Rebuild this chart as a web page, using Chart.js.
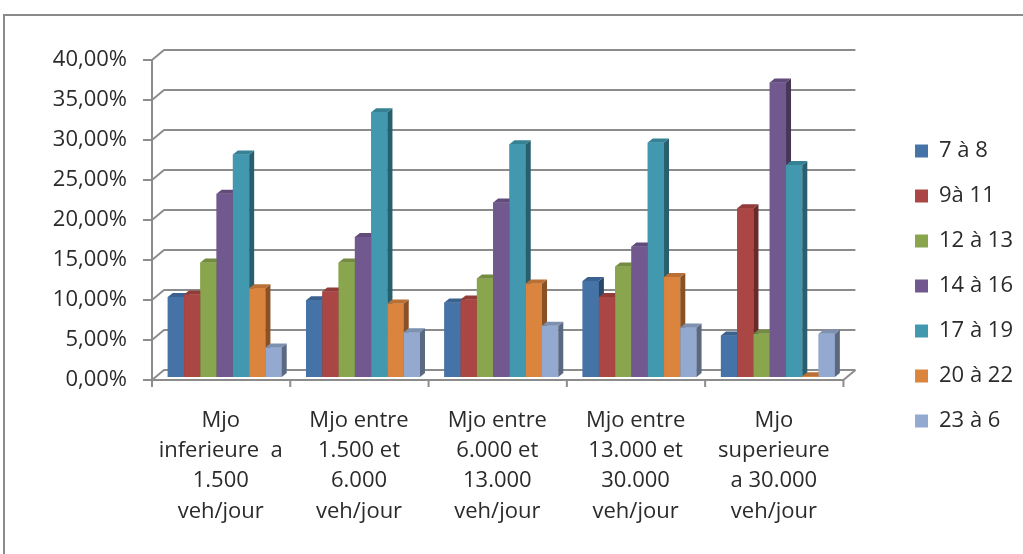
<!DOCTYPE html>
<html>
<head>
<meta charset="utf-8">
<script src="https://cdn.jsdelivr.net/npm/chart.js@4.4.1/dist/chart.umd.min.js"></script>
<style>
  html, body { margin: 0; padding: 0; background: #fff; }
</style>
</head>
<body>
<canvas id="chart" width="1023" height="554"></canvas>
<script>
// categories (multi-line labels as in the sheet)
const categories = [
  ['Mjo', 'inferieure  a', '1.500', 'veh/jour'],
  ['Mjo entre', '1.500 et', '6.000', 'veh/jour'],
  ['Mjo entre', '6.000 et', '13.000', 'veh/jour'],
  ['Mjo entre', '13.000 et', '30.000', 'veh/jour'],
  ['Mjo', 'superieure', 'a 30.000', 'veh/jour']
];
const seriesNames = ['7 à 8', '9à 11', '12 à 13', '14 à 16', '17 à 19', '20 à 22', '23 à 6'];

// values in %
const h7a8   = [10.0,  9.6,  9.3, 12.0,  5.2];
const h9a11  = [10.3, 10.7,  9.7, 10.0, 21.1];
const h12a13 = [14.3, 14.3, 12.3, 13.8,  5.4];
const h14a16 = [22.9, 17.5, 21.8, 16.3, 36.8];
const h17a19 = [27.8, 33.1, 29.1, 29.3, 26.5];
const h20a22 = [11.1,  9.2, 11.7, 12.5,  0.1];
const h23a6  = [ 3.7,  5.6,  6.4,  6.2,  5.4];

const yMax = 40;
const yStep = 5;

const colors = ['#4572a7', '#aa4643', '#89a54e', '#71588f', '#4198af', '#db843d', '#93a9cf'];
const allSeries = [h7a8, h9a11, h12a13, h14a16, h17a19, h20a22, h23a6];

// fake 3d: wall depth and bar depth
const DEPTH_X = 12, DEPTH_Y = -10, PLANE = 0.3;
const BAR_X = 5, BAR_Y = -4;
const FONT = '"Open Sans", sans-serif';
const TEXT = '#2b2b2b';

function shade(hex, f) {
  const n = parseInt(hex.slice(1), 16);
  const r = Math.round(((n >> 16) & 255) * f);
  const g = Math.round(((n >> 8) & 255) * f);
  const b = Math.round((n & 255) * f);
  return 'rgb(' + r + ',' + g + ',' + b + ')';
}

function poly(ctx, pts) {
  ctx.beginPath();
  ctx.moveTo(pts[0][0], pts[0][1]);
  for (let i = 1; i < pts.length; i++) ctx.lineTo(pts[i][0], pts[i][1]);
  ctx.closePath();
  ctx.fill();
}

const frame3d = {
  id: 'frame3d',
  beforeDatasetsDraw(chart) {
    const { ctx, chartArea: a, scales: { x, y } } = chart;
    const fx0 = a.left - DEPTH_X * PLANE;
    const fx1 = a.right - DEPTH_X * PLANE;
    const fy = v => y.getPixelForValue(v) - DEPTH_Y * PLANE;
    ctx.save();
    // outer chart border
    ctx.strokeStyle = '#8a8a8a';
    ctx.lineWidth = 2;
    ctx.strokeRect(4, 15, 1200, 800);

    ctx.strokeStyle = '#8c8c8c';
    ctx.lineWidth = 2;
    ctx.lineJoin = 'round';
    y.ticks.forEach(t => {
      const yy = fy(t.value);
      ctx.beginPath();
      ctx.moveTo(fx0 - 9, yy);
      ctx.lineTo(fx0, yy);
      ctx.lineTo(fx0 + DEPTH_X, yy + DEPTH_Y);
      ctx.lineTo(fx1 + DEPTH_X, yy + DEPTH_Y);
      ctx.stroke();
    });
    // front axis + floor edge
    ctx.beginPath();
    ctx.moveTo(fx0, fy(yMax));
    ctx.lineTo(fx0, fy(0));
    ctx.lineTo(fx1, fy(0));
    ctx.lineTo(fx1 + DEPTH_X, fy(0) + DEPTH_Y);
    ctx.stroke();
    // category ticks
    const n = categories.length;
    for (let i = 0; i <= n; i++) {
      const cx = fx0 + (fx1 - fx0) * i / n;
      ctx.beginPath();
      ctx.moveTo(cx, fy(0));
      ctx.lineTo(cx, fy(0) + 7);
      ctx.stroke();
    }
    ctx.restore();
  },
  afterDatasetsDraw(chart) {
    // redraw bars left to right so each side face is hidden by its neighbour
    const ctx = chart.ctx;
    const bars = [];
    chart.data.datasets.forEach((ds, i) => {
      chart.getDatasetMeta(i).data.forEach(el => bars.push({ el, color: ds.backgroundColor }));
    });
    bars.sort((p, q) => p.el.x - q.el.x);
    ctx.save();
    bars.forEach(({ el, color }) => {
      const { x, y, base, width } = el.getProps(['x', 'y', 'base', 'width'], true);
      const l = x - width / 2, r = x + width / 2;
      el.draw(ctx, chart.chartArea);
      ctx.fillStyle = shade(color, 0.62);
      poly(ctx, [[r, y], [r + BAR_X, y + BAR_Y], [r + BAR_X, base + BAR_Y], [r, base]]);
      ctx.fillStyle = shade(color, 0.85);
      poly(ctx, [[l, y], [l + BAR_X, y + BAR_Y], [r + BAR_X, y + BAR_Y], [r, y]]);
    });
    ctx.restore();
  }
};

const datasets = seriesNames.map((name, i) => ({
  label: name,
  data: allSeries[i],
  backgroundColor: colors[i],
  borderWidth: 0,
  categoryPercentage: 0.824,
  barPercentage: 1
}));

new Chart(document.getElementById('chart'), {
  type: 'bar',
  data: { labels: categories, datasets: datasets },
  options: {
    responsive: false,
    animation: false,
    devicePixelRatio: 1,
    layout: { padding: { top: 57, left: 0, right: 0, bottom: 0 } },
    plugins: {
      tooltip: { enabled: false },
      legend: {
        position: 'right',
        align: 'start',
        title: { display: true, text: '', font: { size: 10, lineHeight: 1 }, padding: { top: 50, bottom: 0 } },
        labels: {
          boxWidth: 13,
          boxHeight: 13,
          padding: 23,
          color: TEXT,
          font: { family: FONT, size: 22 }
        }
      }
    },
    scales: {
      x: {
        grid: { display: false, drawTicks: false },
        border: { display: false },
        ticks: {
          color: TEXT,
          font: { family: FONT, size: 22, lineHeight: 1.386 },
          padding: 28,
          labelOffset: -4,
          maxRotation: 0,
          autoSkip: false
        },
        afterFit(s) { s.height = 177; }
      },
      y: {
        min: 0,
        max: yMax,
        grid: { display: false, drawTicks: false },
        border: { display: false },
        ticks: {
          stepSize: yStep,
          color: TEXT,
          font: { family: FONT, size: 22 },
          padding: 28.6,
          labelOffset: 3,
          callback: v => v.toFixed(2).replace('.', ',') + '%'
        },
        afterFit(s) { s.width = 155.6; }
      },
      gap: {
        position: 'right',
        grid: { display: false, drawTicks: false },
        border: { display: false },
        ticks: { display: false },
        afterFit(s) { s.width = 45; }
      }
    }
  },
  plugins: [frame3d]
});
</script>
</body>
</html>
